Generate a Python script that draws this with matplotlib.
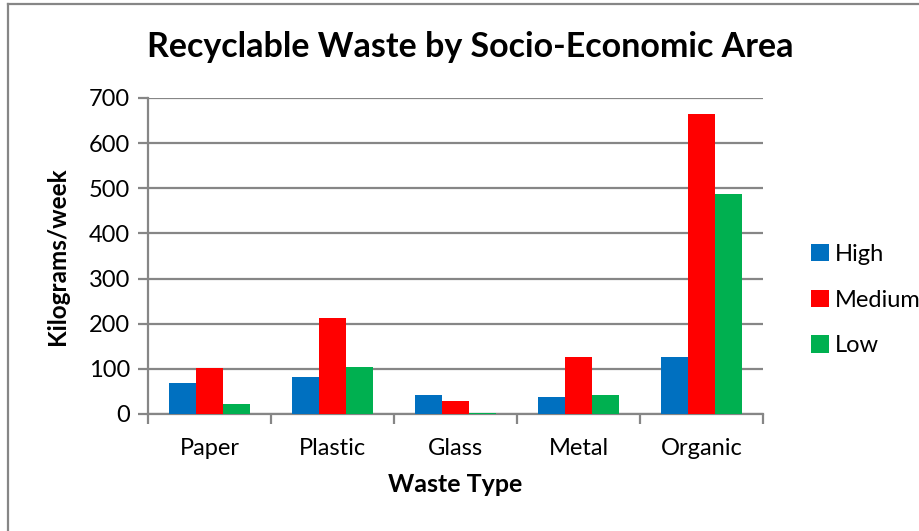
import numpy as np
import matplotlib.pyplot as plt
import matplotlib.ticker as ticker
from matplotlib.patches import Patch
from matplotlib.lines import Line2D

plt.rcParams['font.family'] = ['Lato', 'DejaVu Sans']

waste_types = ['Paper', 'Plastic', 'Glass', 'Metal', 'Organic']
high = [68, 82, 43, 37, 126]
medium = [101, 213, 28, 127, 664]
low = [22, 104, 3, 43, 488]
series_names = ['High', 'Medium', 'Low']
colours = ['#0070C0', '#FF0000', '#00B050']

fig = plt.figure(figsize=(9.2, 5.31), dpi=100)
W, H = 920, 531
ax = fig.add_axes([148/W, 1 - 414/H, (763-148)/W, (414-98)/H])

x = np.arange(len(waste_types))
bw = 0.222
for i, (vals, c) in enumerate(zip([high, medium, low], colours)):
    ax.bar(x + (i - 1)*bw, vals, width=bw, color=c, zorder=3)

grey = '#868686'
ax.set_xlim(-0.5, len(waste_types) - 0.5)
ax.set_ylim(0, 700)
ax.yaxis.set_major_locator(ticker.MultipleLocator(100))
ax.grid(axis='y', color=grey, lw=1.6, zorder=0)
ax.set_xticks(x)
ax.set_xticklabels(waste_types, fontsize=17)
ax.xaxis.set_minor_locator(ticker.FixedLocator(np.arange(-0.5, len(waste_types), 1)))
ax.tick_params(axis='x', which='major', length=0, pad=17)
ax.tick_params(axis='x', which='minor', length=7, width=1.6, color=grey, direction='out')
ax.tick_params(axis='y', length=7, width=1.6, color=grey, labelsize=17, pad=6)
for s in ['top', 'right']:
    ax.spines[s].set_visible(False)
for s in ['left', 'bottom']:
    ax.spines[s].set_color(grey)
    ax.spines[s].set_linewidth(1.6)

ax.set_xlabel('Waste Type', fontsize=18, fontweight='bold', labelpad=10)
ax.set_ylabel('Kilograms/week', fontsize=17.5, fontweight='bold', labelpad=14)
fig.text(470/W, 1 - 47/H, 'Recyclable Waste by Socio-Economic Area',
         fontsize=24.5, fontweight='bold', ha='center', va='center')

handles = [Patch(facecolor=c, edgecolor='none') for c in colours]
fig.legend(handles, series_names, loc='center left', bbox_to_anchor=(790/W, 1 - 300/H),
           frameon=False, fontsize=17, handlelength=0.75, handleheight=0.75,
           handletextpad=0.25, labelspacing=1.05)

# chart border (left and top edges only visible)
fig.add_artist(Line2D([8/W, 8/W], [0, 1 - 4/H], color=grey, lw=1.6))
fig.add_artist(Line2D([8/W, 1], [1 - 4/H, 1 - 4/H], color=grey, lw=1.6))

fig.savefig('out.png', dpi=100)
